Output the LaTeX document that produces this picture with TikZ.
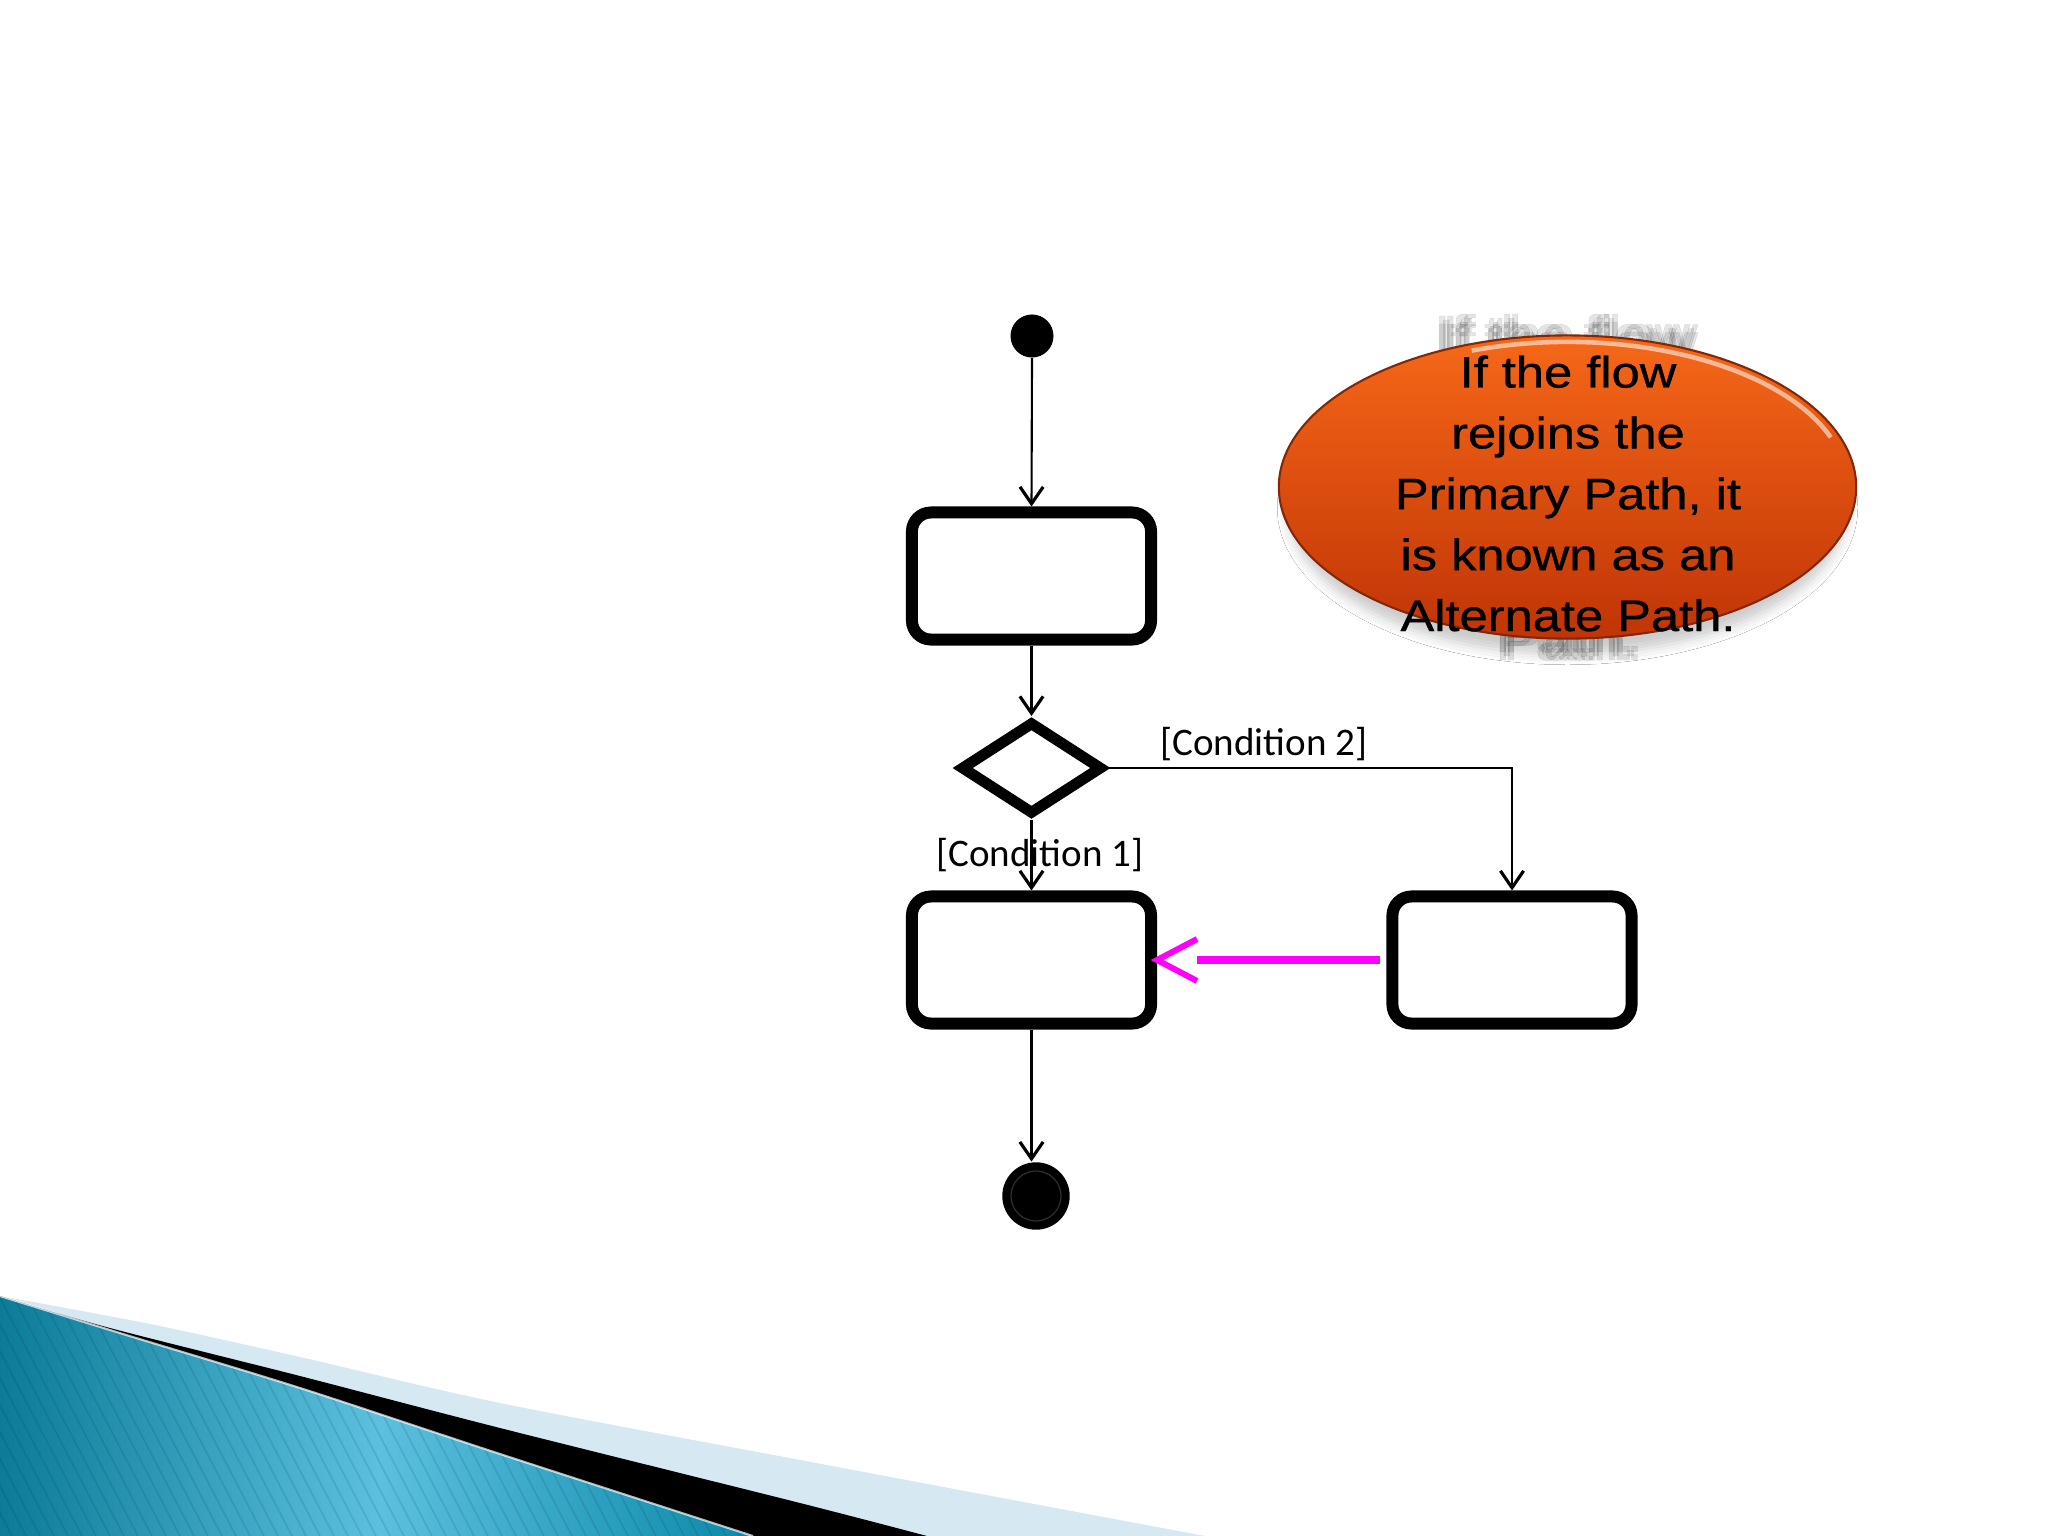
\documentclass[tikz,border=0pt]{standalone}
\usepackage{fontspec}
\setmainfont{Liberation Sans}
\newfontfamily\calib{Carlito}
\newfontfamily\ellfont[FakeBold=0.7]{Liberation Sans}
\usetikzlibrary{shapes.geometric,arrows.meta,calc,shadows.blur}

\definecolor{ellTop}{RGB}{246,104,24}
\definecolor{ellBot}{RGB}{192,52,6}
\definecolor{ellEdge}{RGB}{130,40,10}
\definecolor{pinkc}{RGB}{255,0,255}
\definecolor{tealA}{RGB}{12,124,152}
\definecolor{tealB}{RGB}{92,192,222}
\definecolor{tealC}{RGB}{10,136,168}
\definecolor{paleblue}{RGB}{214,232,242}

\begin{document}
\begin{tikzpicture}[x=0.01cm,y=-0.01cm,
  actbox/.style={draw, line width=3.4pt, rounded corners=0.19cm, minimum width=2.39cm,
    minimum height=1.27cm, inner sep=0pt, fill=white},
  decbox/.style={diamond, draw, line width=3.1pt, minimum width=1.42cm, minimum height=0.93cm,
    inner sep=0pt, fill=white},
  flow/.style={line width=0.6pt, -{Straight Barb[length=4.8pt, width=6.6pt, line width=0.9pt]}},
  cond/.style={font=\calib\fontsize{11.1pt}{13pt}\selectfont, inner sep=0pt, anchor=base},
  shadowtxt/.style={anchor=base, inner sep=0pt, text=black, opacity=0.1,
    font=\ellfont\fontsize{17pt}{20pt}\selectfont},
  pinkline/.style={line width=2.4pt, pinkc},
  pinkhead/.style={line width=1.7pt, pinkc, line join=miter},
]
% canvas
\fill[white] (0,0) rectangle (2048,1536);
\useasboundingbox (0,0) rectangle (2048,1536);

% bottom decorative band
\fill[paleblue] plot[smooth] coordinates {(0,1296) (150,1324) (300,1357) (500,1403) (800,1460) (1205,1536)} -- (0,1536) -- cycle;
\fill[black] plot[smooth] coordinates {(0,1296) (110,1328) (300,1376) (500,1428) (800,1503) (927,1536)} -- (0,1536) -- cycle;
\begin{scope}
  \clip plot[smooth] coordinates {(0,1296) (123,1334) (300,1388) (500,1454) (753,1536)} -- (0,1536) -- cycle;
  \fill[left color=tealA, right color=tealC, middle color=tealB] (0,1290) rectangle (760,1536);
  \foreach \i in {-900,-886,...,760} \draw[black!60!teal, opacity=0.12, line width=0.5pt] (\i,1290) -- ++(128,246);
\end{scope}
\draw[white, opacity=0.7, line width=0.6pt] plot[smooth] coordinates {(0,1296) (123,1334) (300,1388) (500,1454) (753,1536)};

% blurred reflection of the callout text
\foreach \dx/\dy [count=\k] in {0/0, 4/4, -4/-4, 4/-4, -4/4} {
  \node[shadowtxt] (sha\k) at (1566+\dx,357+\dy) {\scalebox{1}[0.9]{If the flow}};
  \node[shadowtxt] (shb\k) at (1569+\dx,656+\dy) {\scalebox{1}[0.9]{Path.}};
}

% callout ellipse
\node[ellipse, minimum width=5.77cm, minimum height=3.03cm, draw=ellEdge, line width=0.6pt,
  top color=ellTop, bottom color=ellBot,
  blur shadow={shadow xshift=0pt, shadow yshift=-6pt, shadow scale=0.97, shadow blur radius=3pt, shadow opacity=20}]
  (ell) at (1567.5,487) {};
\draw[white, opacity=0.55, line width=1.3pt] ($(ell.center)+(20:2.80cm and 1.45cm)$)
  arc[start angle=20, end angle=110, x radius=2.80cm, y radius=1.45cm];
\node[anchor=base, inner sep=0pt] (etext) at (1568,631)
  {\scalebox{1}[0.87]{\ellfont\fontsize{14.4pt}{19.9pt}\selectfont\begin{tabular}[b]{@{}c@{}}If the flow\\rejoins the\\Primary Path, it\\is known as an\\Alternate Path.\end{tabular}}};

% activity diagram nodes
\node[circle, fill=black, minimum size=0.43cm, inner sep=0pt] (start) at (1032,336) {};
\node[actbox] (a1) at (1031.5,576) {};
\node[decbox] (d) at (1031.5,768) {};
\node[actbox] (a2) at (1031.5,960) {};
\node[actbox] (a3) at (1512,960) {};
\node[circle, fill=black, minimum size=0.674cm, inner sep=0pt] (fin) at (1036,1196) {};
\draw[black!82, line width=0.35pt] (fin.center) circle[radius=0.25cm];

% connectors
\draw[flow] (start.south) -- (a1.north);
\draw[flow] (a1.south) -- (d.north);
\draw[flow] (d.south) -- (a2.north);
\draw[flow] (d.east) -| (a3.north);
\draw[flow] (a2.south) -- (a2.south |- fin.north);

% magenta rejoin arrow
\draw[pinkline, shorten <=0.06cm, shorten >=0.4cm] (a3.west) -- (a2.east);
\draw[pinkhead] ($(a2.east)+(40,-21)$) -- (a2.east) -- ($(a2.east)+(40,21)$);

% guard labels
\node[cond] (c2) at (1264,755) {[Condition 2]};
\node[cond] (c1) at (1040,866.6) {[Condition 1]};
\end{tikzpicture}
\end{document}
